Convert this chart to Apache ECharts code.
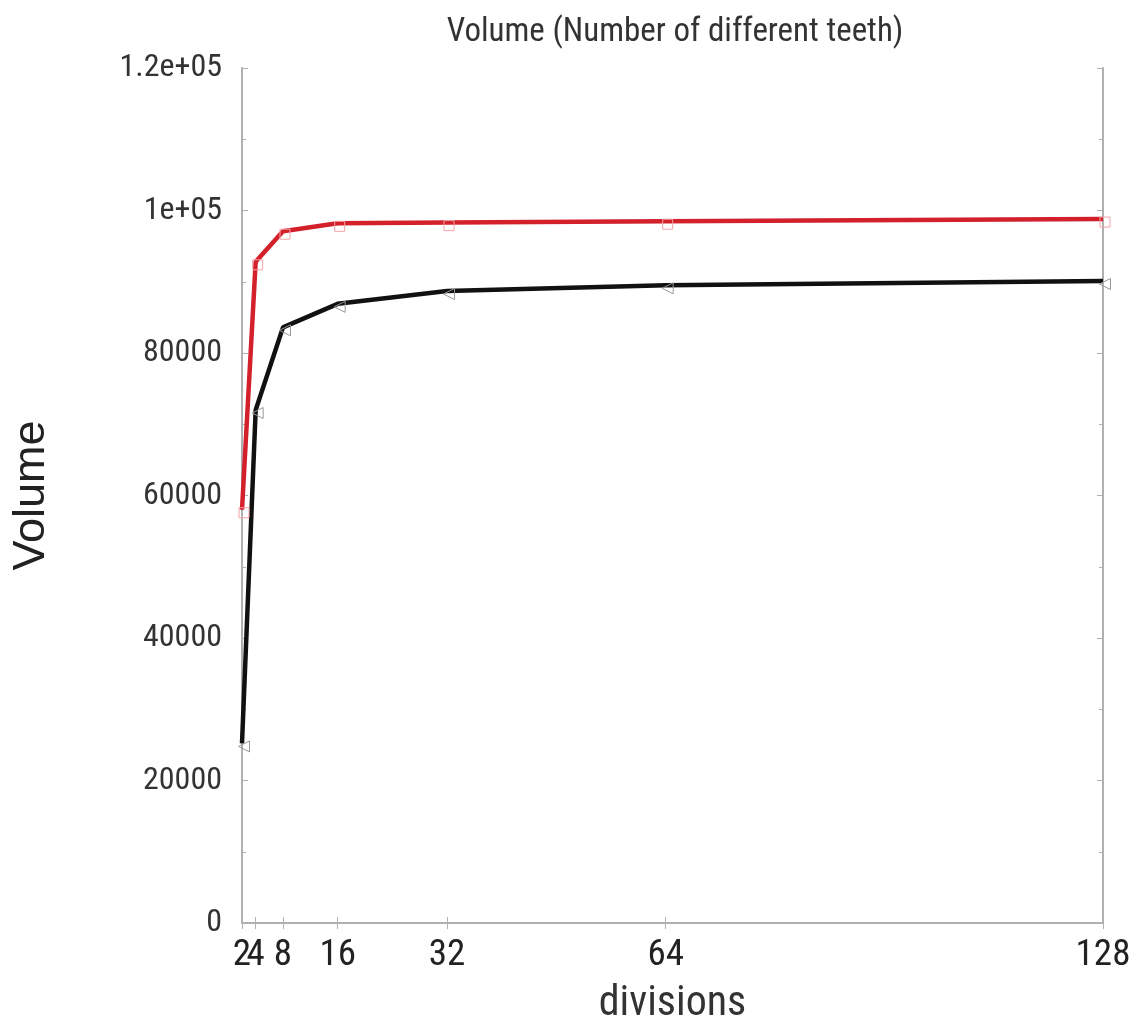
<!DOCTYPE html>
<html>
<head>
<meta charset="utf-8">
<title>Volume (Number of different teeth)</title>
<script src="https://cdn.jsdelivr.net/npm/echarts@6/dist/echarts.min.js"></script>
<style>
  html, body { margin: 0; padding: 0; background: #fff; }
  #chart { width: 1145px; height: 1035px; }
</style>
</head>
<body>
<div id="chart"></div>
<script>
// divisions on the x axis
var divisions = [2, 4, 8, 16, 32, 64, 128];
var xTicks = [2, 4, 8, 16, 32, 64, 128];
var xFirstTick = [2];
var xOtherTicks = [4, 8, 16, 32, 64, 128];
// the two curves
var redVolume = [58000, 92800, 97100, 98200, 98300, 98500, 98800];
var blackVolume = [25200, 72000, 83600, 86900, 88700, 89500, 90100];

function pairs(xs, ys) {
    var out = [];
    for (var i = 0; i < xs.length; i++) out.push([xs[i], ys[i]]);
    return out;
}

var narrow = '"Liberation Sans Narrow", "Roboto Condensed", "Liberation Sans", sans-serif';
var frame = '#b0b0b0';
var xLabelStyle = {
    margin: 14, fontFamily: narrow, fontSize: 37, color: '#222',
    hideOverlap: false, showMinLabel: true, showMaxLabel: true
};

var myChart = echarts.init(document.getElementById('chart'));
var option = {
    animation: false,
    title: {
        text: 'Volume (Number of different teeth)',
        left: 670,
        textAlign: 'center',
        top: 11,
        textStyle: { fontFamily: narrow, fontSize: 33, fontWeight: 'normal', color: '#333' }
    },
    grid: { left: 242, right: 42, top: 68, bottom: 112 },
    xAxis: [{
        type: 'value',
        position: 'bottom',
        min: 2,
        max: 128,
        name: 'divisions',
        nameLocation: 'middle',
        nameGap: 60,
        nameTextStyle: { fontFamily: narrow, fontSize: 42, color: '#333' },
        axisLine: { show: true, lineStyle: { color: frame, width: 2 } },
        axisTick: { show: true, inside: true, length: 6, customValues: xTicks, lineStyle: { color: frame } },
        axisLabel: Object.assign({ customValues: xOtherTicks }, xLabelStyle),
        splitLine: { show: false }
    }, {
        type: 'value',
        position: 'top',
        min: 2,
        max: 128,
        axisLine: { show: true, lineStyle: { color: frame, width: 2 } },
        axisTick: { show: true, inside: true, length: 6, customValues: xTicks, lineStyle: { color: frame } },
        axisLabel: { show: false },
        splitLine: { show: false }
    }, {
        // carries only the "2" label, which sits right against "4"
        type: 'value',
        position: 'bottom',
        offset: 0,
        min: 2,
        max: 128,
        axisLine: { show: false },
        axisTick: { show: false },
        axisLabel: Object.assign({ customValues: xFirstTick }, xLabelStyle),
        splitLine: { show: false }
    }],
    yAxis: [{
        type: 'value',
        min: 0,
        max: 120000,
        interval: 20000,
        name: 'Volume',
        nameLocation: 'middle',
        nameGap: 188,
        nameTextStyle: { fontFamily: '"Liberation Sans", Arial, sans-serif', fontSize: 45, color: '#222' },
        axisLine: { show: true, lineStyle: { color: frame, width: 2 } },
        axisTick: { show: true, inside: true, length: 6, lineStyle: { color: frame } },
        minorTick: { show: true, splitNumber: 2, length: 4, lineStyle: { color: frame } },
        axisLabel: {
            margin: 20,
            fontFamily: narrow, fontSize: 32, color: '#333',
            formatter: function (v) {
                if (v === 120000) return '1.2e+05';
                if (v === 100000) return '1e+05';
                return String(v);
            }
        },
        splitLine: { show: false }
    }, {
        type: 'value',
        position: 'right',
        min: 0,
        max: 120000,
        interval: 20000,
        axisLine: { show: true, lineStyle: { color: frame, width: 2 } },
        axisTick: { show: true, inside: true, length: 6, lineStyle: { color: frame } },
        minorTick: { show: true, splitNumber: 2, length: 4, lineStyle: { color: frame } },
        axisLabel: { show: false },
        splitLine: { show: false }
    }],
    series: [{
        name: 'red',
        type: 'line',
        data: pairs(divisions, redVolume),
        symbol: 'rect',
        symbolSize: 10,
        symbolOffset: [2, 3],
        lineStyle: { color: '#d3202a', width: 4.5 },
        itemStyle: { color: 'rgba(0,0,0,0)', borderColor: '#f2a3a8', borderWidth: 1 },
        z: 3
    }, {
        name: 'black',
        type: 'line',
        data: pairs(divisions, blackVolume),
        symbol: 'triangle',
        symbolRotate: 90,
        symbolSize: 11,
        symbolOffset: [2, 3],
        lineStyle: { color: '#111', width: 4.5 },
        itemStyle: { color: 'rgba(0,0,0,0)', borderColor: '#999', borderWidth: 1 },
        z: 2
    }]
};
myChart.setOption(option);
</script>
</body>
</html>
